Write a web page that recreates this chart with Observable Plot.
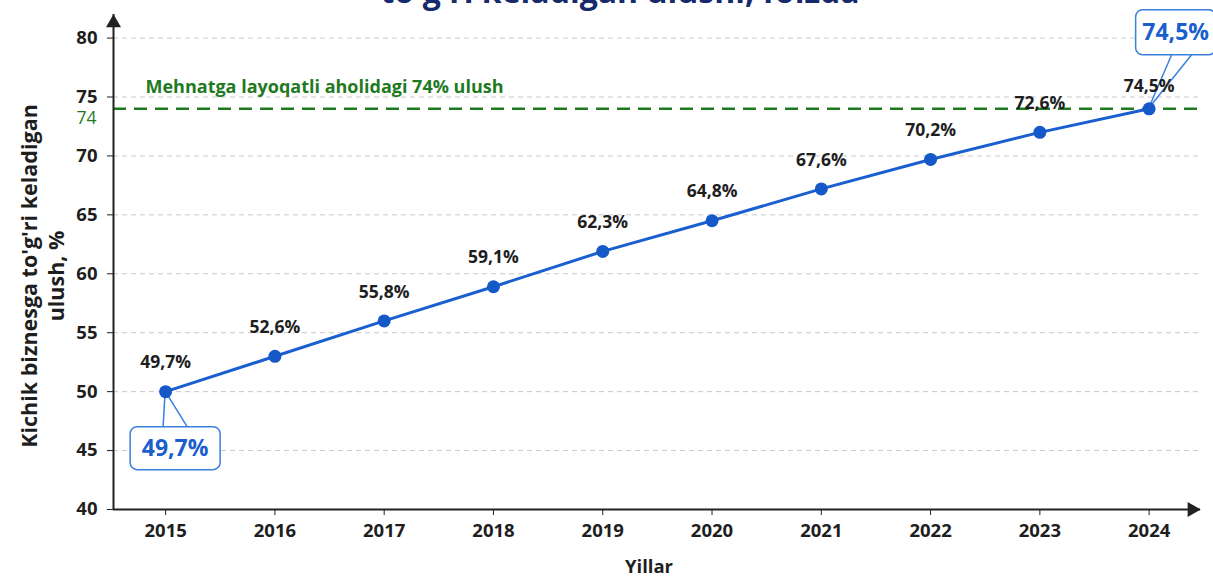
<!DOCTYPE html>
<html>
<head>
<meta charset="utf-8">
<script src="https://cdn.jsdelivr.net/npm/d3@7"></script>
<script src="https://cdn.jsdelivr.net/npm/@observablehq/plot@0.6"></script>
<style>
  html, body { margin: 0; padding: 0; background: #fff; }
  #chart svg { display: block; }
</style>
</head>
<body>
<div id="chart"></div>
<script>
// ---- data ----
const years = [2015, 2016, 2017, 2018, 2019, 2020, 2021, 2022, 2023, 2024];
const shares = [50.0, 53.0, 56.0, 58.9, 61.9, 64.5, 67.2, 69.7, 72.0, 74.0];
const shareLabels = ["49,7%", "52,6%", "55,8%", "59,1%", "62,3%", "64,8%", "67,6%", "70,2%", "72,6%", "74,5%"];
const yTicks = [40, 45, 50, 55, 60, 65, 70, 75, 80];
const gridTicks = [45, 50, 55, 60, 65, 70, 75, 80];
const threshold = 74;
const thresholdLabel = "Mehnatga layoqatli aholidagi 74% ulush";
const calloutYears = [2015, 2024];
const titleText = "to'g'ri keladigan ulushi, foizda";
const yAxisLabel = "Kichik biznesga to'g'ri keladigan\nulush, %";
const xAxisLabel = "Yillar";

// ---- build table ----
const data = years.map((year, i) => ({year, value: shares[i], label: shareLabels[i]}));
const lastYear = years[years.length - 1];
const callouts = data.filter(d => calloutYears.includes(d.year));

// ---- style ----
const FONT = "'Open Sans', 'Noto Sans', sans-serif";
const BLUE = "#1a5fd0";
const DOT = "#1558c8";
const GREEN = "#1f7a1f";
const INK = "#1e1e1e";
const CALLOUT_TEXT = "#1a5fcc";
const CALLOUT_STROKE = "#3b80e0";

// callout geometry (pixel offsets relative to the anchored point)
const calloutLayout = {
  2015: {cx: 10, cy: 57, w: 90, h: 43, l1: -2, l2: 22, edge: "top"},
  2024: {cx: 27, cy: -76, w: 80, h: 45, l1: 23, l2: 43, edge: "bottom"}
};

const W = 1213, H = 576;
const marginLeft = 113, marginRight = 13, marginTop = 14, marginBottom = 67;
const xDomain = [2014.523, 2024.47];
const yDomain = [40, 82];

const chart = Plot.plot({
  width: W,
  height: H,
  marginLeft, marginRight, marginTop, marginBottom,
  style: {fontFamily: FONT, background: "#fff", overflow: "visible"},
  x: {domain: xDomain, axis: null},
  y: {domain: yDomain, axis: null},
  marks: [
    // title (second line, partly cut at top)
    Plot.text([titleText], {
      frameAnchor: "top", lineAnchor: "top", dx: -37, dy: -34,
      fontSize: 32, fontWeight: "bold", fill: "#172a6b"
    }),
    // grid
    Plot.gridY(gridTicks, {stroke: "#c8c8c8", strokeOpacity: 1, strokeDasharray: "5,4", strokeWidth: 1}),
    // threshold line
    Plot.ruleY([threshold], {stroke: GREEN, strokeWidth: 2.5, strokeDasharray: "13,8"}),
    Plot.text([threshold], {
      y: d => d, frameAnchor: "left", textAnchor: "start", dx: 32, dy: -22,
      text: () => thresholdLabel, fill: GREEN, fontSize: 18, fontWeight: "bold"
    }),
    // axes lines
    Plot.ruleX([xDomain[0]], {stroke: "#222", strokeWidth: 2}),
    Plot.ruleY([yDomain[0]], {stroke: "#222", strokeWidth: 2}),
    Plot.dot([0], {frameAnchor: "top-left", symbol: "triangle", r: 5.6, fill: "#222", stroke: null, dy: 8.5}),
    Plot.dot([0], {frameAnchor: "bottom-right", symbol: "triangle", rotate: 90, r: 5.6, fill: "#222", stroke: null, dx: -8.5}),
    // axes ticks & labels
    Plot.axisY({ticks: yTicks, tickSize: 6, tickPadding: 10, fontSize: 18.5, fontWeight: "bold", color: INK, label: null}),
    Plot.axisY([threshold], {tickSize: 0, tickPadding: 17, dy: 10, fontSize: 17.5, fontWeight: "normal", fill: GREEN, label: null}),
    Plot.axisX({ticks: years, tickFormat: "d", tickSize: 6, tickPadding: 8, fontSize: 18.5, fontWeight: "bold", color: INK, label: null}),
    // axis titles
    Plot.text([yAxisLabel], {
      frameAnchor: "left", textAnchor: "middle", lineAnchor: "middle", rotate: -90, dx: -72, dy: 14,
      lineHeight: 1.27, fontSize: 21.5, fontWeight: "bold", fill: INK
    }),
    Plot.text([xAxisLabel], {
      frameAnchor: "bottom", lineAnchor: "middle", dx: -8, dy: 58, fontSize: 18.5, fontWeight: "bold", fill: INK
    }),
    // series
    Plot.line(data, {x: "year", y: "value", stroke: BLUE, strokeWidth: 3}),
    // callouts
    Plot.dot(callouts, {
      x: "year", y: "value", r: 0,
      render(index, scales, values) {
        const g = d3.create("svg:g");
        for (const i of index) {
          const d = callouts[i];
          const L = calloutLayout[d.year];
          const px = values.x[i], py = values.y[i];
          const bx = px + L.cx - L.w / 2, by = py + L.cy - L.h / 2;
          const ey = L.edge === "top" ? by : by + L.h;
          for (const off of [L.l1, L.l2]) {
            g.append("line")
              .attr("x1", px).attr("y1", py)
              .attr("x2", px + off).attr("y2", ey)
              .attr("stroke", CALLOUT_STROKE).attr("stroke-width", 1.5);
          }
          g.append("rect")
            .attr("x", bx).attr("y", by).attr("width", L.w).attr("height", L.h)
            .attr("rx", 7).attr("fill", "#fff")
            .attr("stroke", CALLOUT_STROKE).attr("stroke-width", 1.5);
          g.append("text")
            .attr("x", px + L.cx).attr("y", py + L.cy)
            .attr("dy", "0.35em")
            .attr("text-anchor", "middle")
            .attr("font-family", FONT)
            .attr("font-size", 23).attr("font-weight", "bold")
            .attr("fill", CALLOUT_TEXT)
            .text(d.label);
        }
        return g.node();
      }
    }),
    Plot.dot(data, {x: "year", y: "value", r: 6.5, fill: DOT, stroke: null}),
    // value labels
    Plot.text(data.filter(d => d.year !== lastYear), {
      x: "year", y: "value", text: "label", dy: -29,
      fontSize: 17.5, fontWeight: "bold", fill: INK
    }),
    Plot.text(data.filter(d => d.year === lastYear), {
      x: "year", y: "value", text: "label", dy: -22,
      fontSize: 17.5, fontWeight: "bold", fill: INK
    })
  ]
});

document.getElementById("chart").append(chart);
</script>
</body>
</html>
